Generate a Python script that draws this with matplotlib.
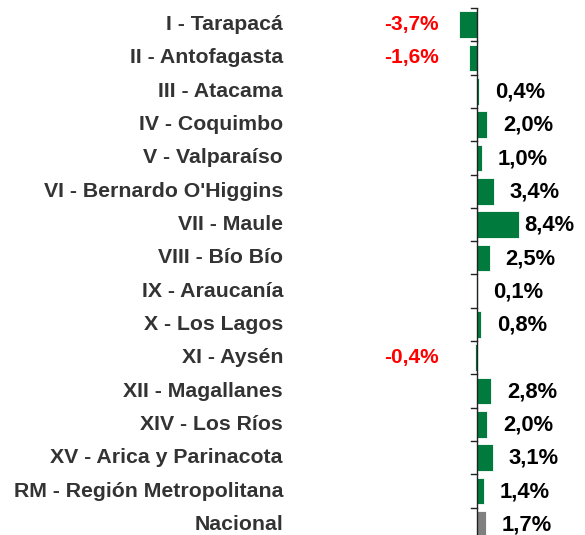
import matplotlib
matplotlib.use("Agg")
import matplotlib.pyplot as plt
import matplotlib.transforms as mtrans

regions = ["I - Tarapacá", "II - Antofagasta", "III - Atacama", "IV - Coquimbo",
           "V - Valparaíso", "VI - Bernardo O'Higgins", "VII - Maule", "VIII - Bío Bío",
           "IX - Araucanía", "X - Los Lagos", "XI - Aysén", "XII - Magallanes",
           "XIV - Los Ríos", "XV - Arica y Parinacota", "RM - Región Metropolitana",
           "Nacional"]
values = [-3.7, -1.6, 0.4, 2.0, 1.0, 3.4, 8.4, 2.5, 0.1, 0.8, -0.4, 2.8, 2.0, 3.1, 1.4, 1.7]

W, H = 585, 535
plt.rcParams['font.family'] = ['Liberation Sans', 'DejaVu Sans']
fig = plt.figure(figsize=(W / 100, H / 100), dpi=100)

# axes geometry in pixels
ax_left_px, ax_right_px = 290, 585
ax_top_px, ax_bot_px = 8, 541
zero_px, px_per_unit = 477, 5.0
ax = fig.add_axes([ax_left_px / W, 1 - ax_bot_px / H,
                   (ax_right_px - ax_left_px) / W, (ax_bot_px - ax_top_px) / H])
ax.set_xlim((ax_left_px - zero_px) / px_per_unit, (ax_right_px - zero_px) / px_per_unit)
n = len(values)
ax.set_ylim(n - 0.5, -0.5)

green = '#007A3D'
gray = '#808080'
colors = [gray if r == "Nacional" else green for r in regions]
ypos = list(range(n))
ax.barh(ypos, values, height=0.8, color=colors, edgecolor='white', linewidth=0.6, zorder=2)

for s in ['top', 'right', 'bottom', 'left']:
    ax.spines[s].set_visible(False)
ax.axvline(0, color='#222222', lw=1.0, zorder=3)
ax.set_xticks([])
ax.set_yticks([])
# tick marks at category boundaries
for b in [i - 0.5 for i in range(n + 1)]:
    ax.plot([-6 / px_per_unit, 0], [b, b], color='#222222', lw=1.0, zorder=3, clip_on=False)

FS_CAT = 15.3
FS_VAL = 15.8
# category labels
tr = mtrans.blended_transform_factory(fig.transFigure, ax.transData)
for i, r in enumerate(regions):
    ax.text(283 / W, i, r, transform=tr, ha='right', va='center',
            fontsize=FS_CAT, fontweight='bold', color='#333333')

# value labels
for i, v in enumerate(values):
    lab = f"{v:.1f}%".replace('.', ',')
    if v < 0:
        x = -38 / px_per_unit
        ax.text(x, i, lab, ha='right', va='center', fontsize=FS_VAL - 0.8,
                fontweight='bold', color='#FF0000')
    else:
        end_px = zero_px + v * px_per_unit + 16
        end_px = min(end_px, 524)
        ax.text((end_px - zero_px) / px_per_unit, i + 0.02, lab, ha='left', va='center',
                fontsize=FS_VAL, fontweight='bold', color='black')

fig.savefig("out.png", dpi=100)
